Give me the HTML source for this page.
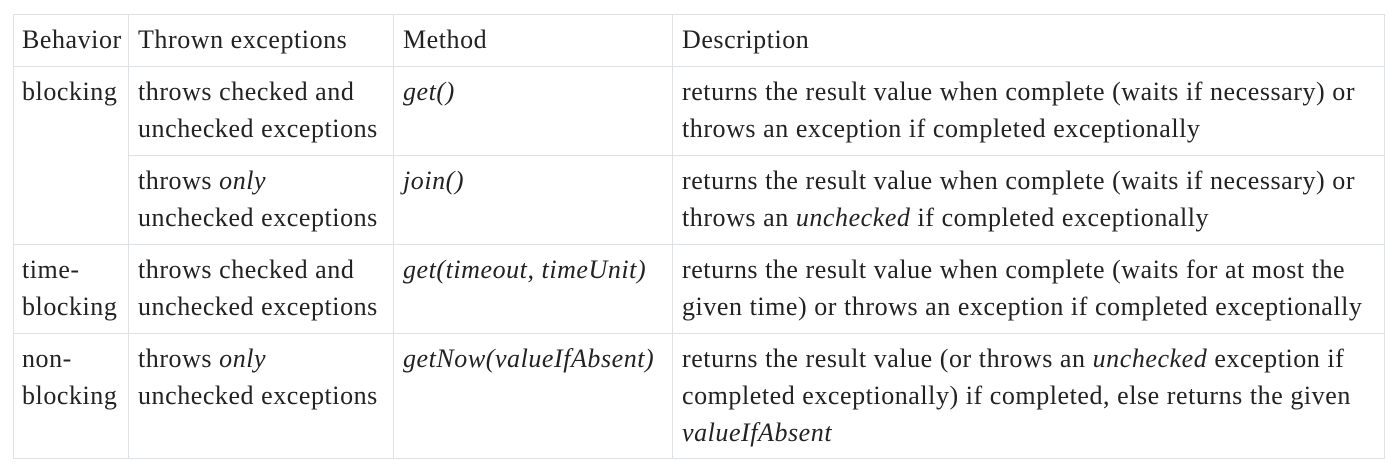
<!DOCTYPE html>
<html><head><style>
body{margin:0;width:1398px;height:472px;background:#fff;position:relative;overflow:hidden;font-family:"Liberation Serif",serif;font-size:26px;letter-spacing:0.55px;color:#222;}
.t{position:absolute;white-space:nowrap;line-height:37px;}
.h{position:absolute;height:1px;background:#dfe2e5;}
.v{position:absolute;width:1px;background:#dfe2e5;}
i{font-style:italic}
</style></head><body>
<div class="h" style="left:13px;width:1372px;top:14px"></div>
<div class="h" style="left:13px;width:1372px;top:66px"></div>
<div class="h" style="left:128px;width:1257px;top:155px"></div>
<div class="h" style="left:13px;width:1372px;top:244px"></div>
<div class="h" style="left:13px;width:1372px;top:333px"></div>
<div class="h" style="left:13px;width:1372px;top:458px"></div>
<div class="v" style="left:13px;top:14px;height:445px"></div>
<div class="v" style="left:128px;top:14px;height:445px"></div>
<div class="v" style="left:393px;top:14px;height:445px"></div>
<div class="v" style="left:672px;top:14px;height:445px"></div>
<div class="v" style="left:1384px;top:14px;height:445px"></div>

<div class="t" style="left:22px;top:21px">Behavior</div>
<div class="t" style="left:138px;top:21px">Thrown exceptions</div>
<div class="t" style="left:403px;top:21px">Method</div>
<div class="t" style="left:682px;top:21px">Description</div>

<div class="t" style="left:22px;top:73px">blocking</div>
<div class="t" style="left:138px;top:73px">throws checked and<br>unchecked exceptions</div>
<div class="t" style="left:403px;top:73px"><i>get()</i></div>
<div class="t" style="left:682px;top:73px">returns the result value when complete (waits if necessary) or<br>throws an exception if completed exceptionally</div>

<div class="t" style="left:138px;top:162px">throws <i>only</i><br>unchecked exceptions</div>
<div class="t" style="left:403px;top:162px"><i>join()</i></div>
<div class="t" style="left:682px;top:162px">returns the result value when complete (waits if necessary) or<br>throws an <i>unchecked</i> if completed exceptionally</div>

<div class="t" style="left:22px;top:251px">time-<br>blocking</div>
<div class="t" style="left:138px;top:251px">throws checked and<br>unchecked exceptions</div>
<div class="t" style="left:403px;top:251px"><i>get(timeout, timeUnit)</i></div>
<div class="t" style="left:682px;top:251px">returns the result value when complete (waits for at most the<br>given time) or throws an exception if completed exceptionally</div>

<div class="t" style="left:22px;top:340px">non-<br>blocking</div>
<div class="t" style="left:138px;top:340px">throws <i>only</i><br>unchecked exceptions</div>
<div class="t" style="left:403px;top:340px"><i>getNow(valueIfAbsent)</i></div>
<div class="t" style="left:682px;top:340px">returns the result value (or throws an <i>unchecked</i> exception if<br>completed exceptionally) if completed, else returns the given<br><i>valueIfAbsent</i></div>
</body></html>
